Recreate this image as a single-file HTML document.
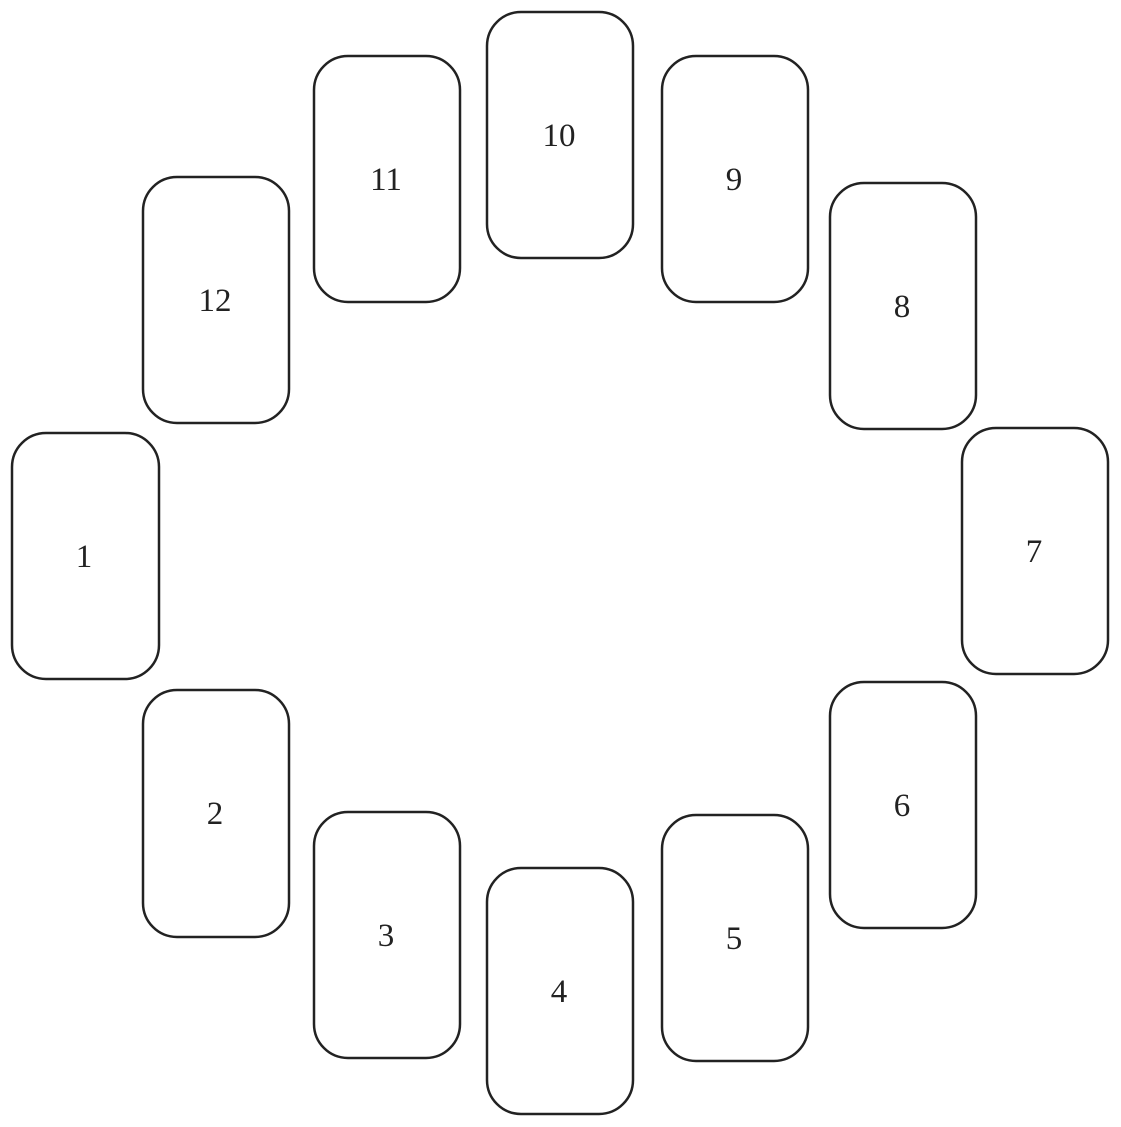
<!DOCTYPE html>
<html><head><meta charset="utf-8"><style>
html,body{margin:0;padding:0;background:#fff;}
svg{display:block}
text{font-family:"Liberation Serif",serif;font-size:33px;fill:#222;text-anchor:middle;dominant-baseline:central}
rect{fill:#fff;stroke:#222;stroke-width:2.5}
</style></head><body>
<svg width="1121" height="1127" viewBox="0 0 1121 1127">
<g>
<rect x="487" y="12" width="146" height="246" rx="34"/><text x="559" y="136">10</text>
<rect x="314" y="56" width="146" height="246" rx="34"/><text x="386" y="180">11</text>
<rect x="662" y="56" width="146" height="246" rx="34"/><text x="734" y="180">9</text>
<rect x="143" y="177" width="146" height="246" rx="34"/><text x="215" y="301">12</text>
<rect x="830" y="183" width="146" height="246" rx="34"/><text x="902" y="307">8</text>
<rect x="12" y="433" width="147" height="246" rx="34"/><text x="84" y="557">1</text>
<rect x="962" y="428" width="146" height="246" rx="34"/><text x="1034" y="552">7</text>
<rect x="143" y="690" width="146" height="247" rx="34"/><text x="215" y="814">2</text>
<rect x="830" y="682" width="146" height="246" rx="34"/><text x="902" y="806">6</text>
<rect x="314" y="812" width="146" height="246" rx="34"/><text x="386" y="936">3</text>
<rect x="487" y="868" width="146" height="246" rx="34"/><text x="559" y="992">4</text>
<rect x="662" y="815" width="146" height="246" rx="34"/><text x="734" y="939">5</text>
</g>
</svg>
</body></html>
